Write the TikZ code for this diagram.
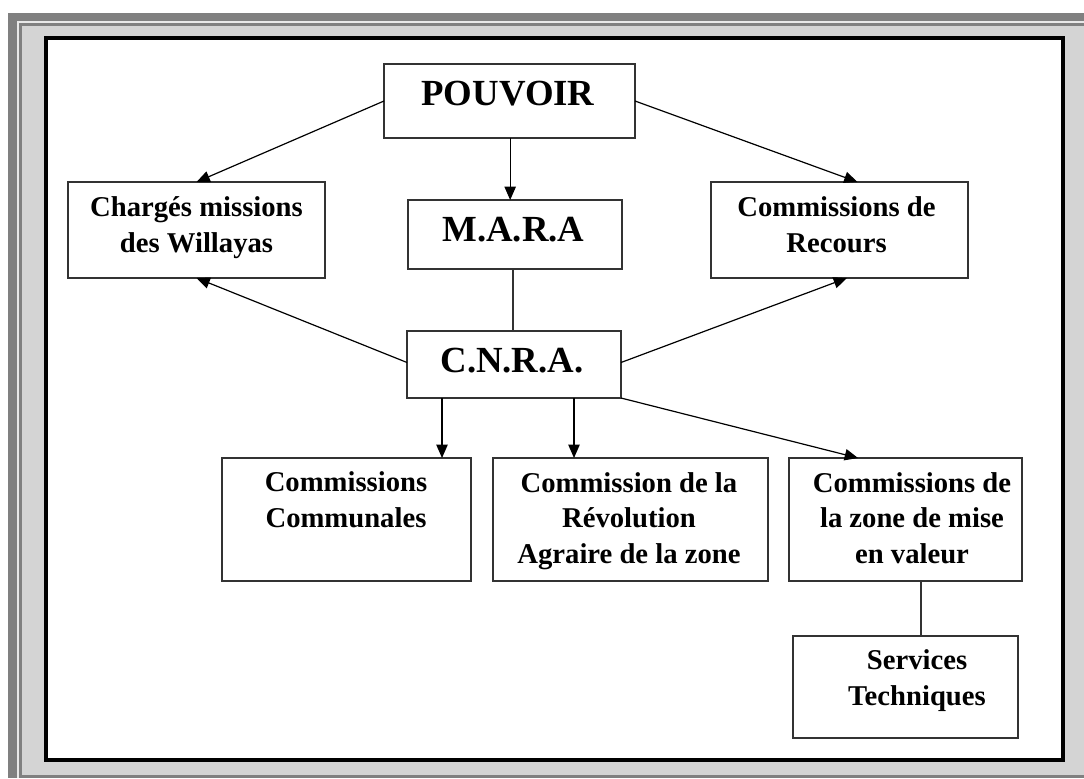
\documentclass[tikz,border=0pt]{standalone}
\usepackage{fontspec}
\setmainfont{Liberation Serif}
\usetikzlibrary{arrows.meta,calc}
\definecolor{framebg}{HTML}{D4D4D4}
\definecolor{framedark}{HTML}{808080}
\definecolor{framelight}{HTML}{E8E8E8}
\definecolor{boxline}{HTML}{333333}
\tikzset{
  box/.style={draw=boxline, line width=1.1pt, rectangle, inner sep=0pt, outer sep=0pt, fill=white},
  bigtxt/.style={font=\fontsize{27.6}{32}\selectfont\bfseries, inner sep=0pt, anchor=base},
  smalltxt/.style={font=\fontsize{21.5}{26.6}\selectfont\bfseries, inner sep=0pt, align=center, anchor=base},
  arr/.style={draw=black, line width=0.9pt, -{Triangle[length=10pt,width=8.5pt]}},
  link/.style={draw=boxline, line width=0.9pt}
}
\begin{document}
\begin{tikzpicture}[x=0.75pt,y=-0.75pt]
\useasboundingbox (0,0) rectangle (1084,778);
\fill[white] (0,0) rectangle (1084,778);
% window frame
\fill[framebg] (8,13) rectangle (1084,778);
\fill[framedark] (8,13) rectangle (1084,21);
\fill[framedark] (8,13) rectangle (17,778);
\fill[framelight] (17,21) rectangle (1084,23);
\fill[framelight] (17,21) rectangle (19,778);
\fill[framedark] (19,23) rectangle (1084,26);
\fill[framedark] (19,23) rectangle (22,778);
\fill[framedark] (19,775) rectangle (1084,778);
\draw[line width=3pt, fill=white] (46,38) rectangle (1063,760);

% boxes
\node[box, minimum width=188.25pt, minimum height=55.5pt] (pouvoir) at (509.5,101) {};
\node[box, minimum width=160.5pt, minimum height=51.75pt] (mara) at (515,234.5) {};
\node[box, minimum width=160.5pt, minimum height=50.25pt] (cnra) at (514,364.5) {};
\node[box, minimum width=192.75pt, minimum height=72pt] (charges) at (196.5,230) {};
\node[box, minimum width=192.75pt, minimum height=72pt] (recours) at (839.5,230) {};
\node[box, minimum width=186.75pt, minimum height=92.25pt] (communales) at (346.5,519.5) {};
\node[box, minimum width=206.25pt, minimum height=92.25pt] (agraire) at (630.5,519.5) {};
\node[box, minimum width=174.75pt, minimum height=92.25pt] (zone) at (905.5,519.5) {};
\node[box, minimum width=168.75pt, minimum height=76.5pt] (services) at (905.5,687) {};

% texts (base anchor = baseline of the last line)
\node[bigtxt] (pouvoir-t) at (508,105) {POUVOIR};
\node[bigtxt] (mara-t) at (513.5,241) {M.A.R.A};
\node[bigtxt] (cnra-t) at (512,372) {C.N.R.A.};
\node[smalltxt] (charges-t) at (196.5,252) {Chargés missions\\des Willayas};
\node[smalltxt] (recours-t) at (836.5,252) {Commissions de\\Recours};
\node[smalltxt] (communales-t) at (346,527) {Commissions\\Communales};
\node[smalltxt] (agraire-t) at (629,563) {Commission de la\\Révolution\\Agraire de la zone};
\node[smalltxt] (zone-t) at (912,563) {Commissions de\\la zone de mise\\en valeur};
\node[smalltxt] (services-t) at (917,705) {Services\\Techniques};

% connectors
\draw[arr] (pouvoir.west) -- (charges.north);
\draw[arr] ([xshift=0.5pt]pouvoir.south) -- ([xshift=0.5pt]pouvoir.south |- mara.north);
\draw[arr] (pouvoir.east) -- ([xshift=13.5pt]recours.north);
\draw[link] ([xshift=-1.5pt]mara.south) -- ([xshift=-1.5pt]mara.south |- cnra.north);
\draw[arr] ([yshift=1.5pt]cnra.west) -- (charges.south);
\draw[arr] ([yshift=1.5pt]cnra.east) -- ([xshift=5.6pt]recours.south);
\draw[arr] ([xshift=-54pt]cnra.south) -- ([xshift=-54pt]cnra.south |- communales.north);
\draw[arr] ([xshift=45pt]cnra.south) -- ([xshift=45pt]cnra.south |- agraire.north);
\draw[arr] (cnra.south east) -- ([xshift=-35.6pt]zone.north);
\draw[link] ([xshift=11.6pt]zone.south) -- ([xshift=11.6pt]zone.south |- services.north);
\end{tikzpicture}
\end{document}
